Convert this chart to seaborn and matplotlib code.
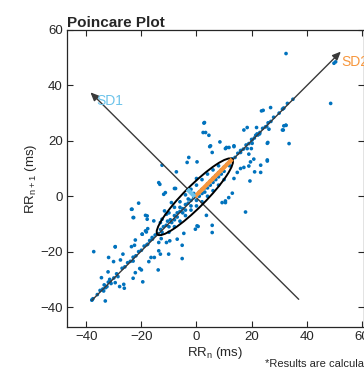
import matplotlib
matplotlib.use("Agg")
import matplotlib.pyplot as plt
from matplotlib.patches import Ellipse
import seaborn as sns
import numpy as np
import pandas as pd

# ---- data ----
rr_n = [
    -37.3, -37.9, -33.1, -29.5, -31.9, -30.1, -26.7, -27.6, -23.6, -22.5, -22.2, -19.7, -18.2,
    -32.1, -34.5, -31.3, -29.5, -27.9, -26.4, -26.2, -33.7, -32.5, -23.0, -22.2, -23.0, -20.6,
    -20.0, -19.5, -17.3, -16.5, -15.3, -13.7, -13.1, -13.9, -10.9, -9.7, -10.1, -7.0, -13.7,
    -17.7, -16.1, -12.8, -5.2,
    -12.5, -7.3, -13.7, -11.9, -11.3, -7.6, -9.1, -21.0, -23.6, -23.0, -18.5, -17.9, -15.5,
    -17.7, -18.5, -19.7, -11.6, -10.9, -13.1, -12.5,
    8.5, 4.8, 5.7, 10.5, 11.8, 13.6, 18.4, 20.2, 25.7, 25.7, 23.3, 19.6, 19.0, 17.2, 21.1,
    19.4, 16.0, 14.8, 13.6, 13.0, 11.7, 10.5, 9.3, 10.5, 17.8, 0.2, 0.0, 5.7, -4.6, -5.2,
    -0.4, 0.2, 3.6, -8.0,
    32.5, 23.6, 24.2, 26.9, 31.2, 31.7, 2.9, 2.4, 4.5, 17.2, 18.4, 25.5, 22.3, 22.9, 20.2,
    25.9, 31.2, 32.5, 33.6, 13.6, 10.9, 5.1, 19.9,
    49.9, 50.5, 48.7, 31.5, 32.4, 31.5,
    2.7, 3.3, 21.8, 31.7, 26.3, 21.5, 16.0, 19.0, 20.8, 25.7, 23.3, 5.7, 0.6, -13.3, -3.4,
    -2.8, -17.9, -23.4, -22.8, -29.5,
    -38.0, -37.6, -36.0, -35.0, -34.0, -33.5, -33.0, -32.0, -31.5, -31.0, -30.0, -29.0,
    -28.5, -27.0, -26.0, -25.0, -24.0, -23.0, -22.0, -21.0, -20.0, -19.0, -18.0, -17.0, -16.0,
    -15.0, -14.0, -13.0, -12.5, -12.0, -11.0, -10.5, -10.0, -9.5, -9.0, -8.0, -8.0, -7.0,
    -7.0, -6.0, -6.0, -5.0, -5.0, -4.0, -4.0, -3.0, -3.0, -2.0, -2.0, -1.0, -1.0, 0.0, 0.0,
    1.0, 1.0, 2.0, 2.0, 3.0, 3.0, 4.0, 4.0, 5.0, 5.0, 6.0, 6.0, 7.0, 7.0, 8.0, 8.0, 9.0,
    9.0, 10.0, 10.0, 11.0, 12.0, 12.0, 13.0, 14.0, 15.0,
    -10.0, -8.0, -6.0, -4.0, -2.0, 0.0, 2.0, 4.0, 6.0, 8.0,
    -6.0, -4.0, -2.0, 0.0, 2.0, 4.0, 6.0, 8.0, 10.0, -8.0, -10.0,
    16.0, 17.0, 18.0, 19.0, 20.0, 21.0, 22.0, 23.0, 24.0, 25.0, 26.0, 27.0, 28.0, 30.0,
    33.0, 35.0,
]
rr_n1 = [
    -20.0, -37.4, -37.8, -18.2, -22.1, -23.6, -20.9, -23.0, -18.2, -17.7, -15.8, -13.7, -12.9,
    -27.3, -29.4, -30.6, -31.2, -32.6, -31.8, -33.2, -34.2, -32.6, -23.4, -27.6, -29.6, -26.1,
    -26.6, -30.9, -23.6, -22.1, -22.1, -19.7, -20.9, -26.6, -16.7, -16.1, -20.9, -15.5, -16.7,
    -17.3, -14.9, -15.3, -22.5,
    11.2, 8.8, 4.9, 0.7, 1.3, 2.8, -2.3, -2.5, -4.7, -7.7, -6.9, -8.3, -8.9,
    -11.7, -12.5, -13.7, -5.3, -6.5, -9.5, -8.3,
    19.6, 17.9, 15.8, 17.2, 17.6, 17.9, 17.2, 19.1, 19.1, 13.1, 11.2, 12.4, 10.9, 10.4, 8.8,
    5.5, 10.0, 8.6, 6.4, 1.1, -0.5, -1.7, -2.3, -2.3, -5.7, 12.4, 6.4, -10.5, -13.4, -17.7,
    -11.9, -10.7, -6.9, 2.8,
    51.5, 30.8, 31.0, 32.0, 31.4, 31.8, 26.6, 23.0, 22.0, 23.9, 24.8, 25.2, 22.1, 22.5, 20.3,
    19.4, 23.9, 25.6, 19.0, 18.2, 17.6, 18.2, 17.2,
    48.0, 48.5, 33.5, 31.7, 25.6, 23.9,
    26.4, 23.0, 24.8, 25.4, 24.2, 22.0, 15.8, 15.2, 13.4, 12.7, 8.6, -13.1, -10.9, 4.3, 12.2,
    14.0, -7.1, -4.7, -7.7, -18.3,
    -37.5, -37.0, -35.5, -34.0, -33.5, -32.0, -33.0, -31.0, -30.0, -31.5, -29.5, -28.0,
    -29.0, -26.0, -25.5, -24.0, -23.5, -22.0, -21.5, -20.0, -19.5, -18.0, -17.5, -16.0, -15.5,
    -14.0, -13.5, -12.0, -13.0, -11.0, -10.5, -9.0, -11.0, -8.5, -9.5, -7.0, -8.5, -6.0,
    -7.5, -5.5, -4.0, -4.5, -6.0, -3.0, -5.0, -2.5, -1.0, -1.5, -3.5, -0.5, 1.0, 0.5, -1.5,
    1.5, 0.0, 2.5, 1.0, 3.0, 1.5, 4.5, 3.0, 5.5, 4.0, 6.5, 5.0, 7.5, 6.0, 8.5, 7.0, 9.5,
    8.0, 10.5, 9.0, 11.5, 12.5, 11.0, 13.5, 14.0, 15.5,
    -6.0, -4.0, -2.0, 0.5, 2.5, 4.0, 6.0, 8.0, 9.5, 11.0,
    -9.0, -7.0, -5.0, -3.5, -2.0, 0.0, 2.0, 4.0, 6.0, -11.0, -13.0,
    16.5, 17.0, 18.5, 19.0, 20.5, 21.0, 22.5, 23.0, 24.5, 25.0, 26.5, 27.0, 28.5, 30.0,
    33.5, 35.0,
]
center = (-0.6, -0.2)
sd1 = 3.9
sd2 = 19.2
identity_start = (-38.0, -37.6)
identity_end = (52.4, 52.2)
perp_start = (37.1, -37.2)
perp_end = (-38.5, 37.5)
x_ticks = [-40, -20, 0, 20, 40, 60]
y_ticks = [-40, -20, 0, 20, 40, 60]

df = pd.DataFrame({"rr_n": rr_n, "rr_n1": rr_n1})

sns.set_style("ticks")
plt.rcParams["font.family"] = ["Liberation Sans", "DejaVu Sans"]

fig = plt.figure(figsize=(3.64, 3.68), dpi=100)
ax = fig.add_axes([67 / 364, 1 - 327 / 368, 297 / 364, 297 / 368])

blue = "#0072BD"
sns.scatterplot(data=df, x="rr_n", y="rr_n1", ax=ax, color=blue, s=7,
                linewidth=0, edgecolor="none", zorder=2)

arrow_kw = dict(arrowstyle="-|>,head_length=0.5,head_width=0.22", color="#3a3a3a",
                lw=1.0, shrinkA=0, shrinkB=0, mutation_scale=10)
ax.annotate("", xy=identity_end, xytext=identity_start, arrowprops=arrow_kw, zorder=3)
ax.annotate("", xy=perp_end, xytext=perp_start, arrowprops=arrow_kw, zorder=3)

ell = Ellipse(center, width=2 * sd2, height=2 * sd1, angle=45, fill=False,
              edgecolor="black", lw=1.4, zorder=4)
ax.add_patch(ell)
c45 = np.cos(np.pi / 4)
ax.plot([center[0], center[0] + sd2 * c45], [center[1], center[1] + sd2 * c45],
        color="#F7963C", lw=3, solid_capstyle="butt", zorder=5)
ax.plot([center[0], center[0] - sd1 * c45], [center[1], center[1] + sd1 * c45],
        color="#6CC3EA", lw=3, solid_capstyle="butt", zorder=5)

ax.text(-36.4, 34.2, "SD1", color="#6CC3EA", fontsize=10, va="center", ha="left")
ax.text(52.6, 48.4, "SD2", color="#F7963C", fontsize=10, va="center", ha="left")

ax.set_xlim(-47, 60.8)
ax.set_ylim(-47.2, 60)
ax.set_xticks(x_ticks)
ax.set_yticks(y_ticks)
ax.tick_params(direction="in", length=4, width=0.8, top=True, right=True,
               labelsize=9.5, colors="#262626", pad=3)
ax.tick_params(axis="x", labelcolor="#262626")
for sp in ax.spines.values():
    sp.set_visible(True)
    sp.set_linewidth(0.9)
    sp.set_color("#262626")

ax.set_xlabel("RR$_\\mathregular{n}$ (ms)", fontsize=9.5, color="#262626", labelpad=1)
ax.set_ylabel("RR$_\\mathregular{n+1}$ (ms)", fontsize=9.5, color="#262626", labelpad=1)
ax.set_title("Poincare Plot", fontsize=11, fontweight="bold", loc="left", pad=2)

fig.text(265 / 364, 1 - 364 / 368, "*Results are calculated", fontsize=8,
         color="#262626", va="center", ha="left")

fig.savefig("out.png", dpi=100)
